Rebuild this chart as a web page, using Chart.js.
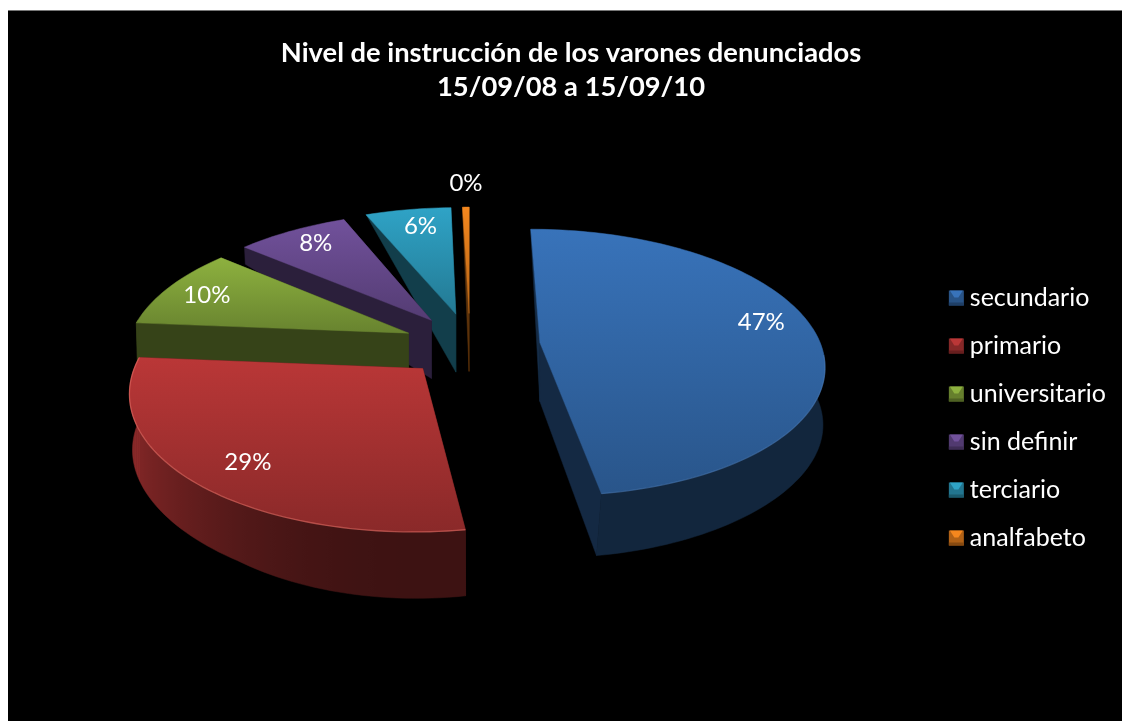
<!DOCTYPE html>
<html>
<head>
<meta charset="utf-8">
<script src="https://cdn.jsdelivr.net/npm/chart.js@4"></script>
<style>
html,body{margin:0;padding:0;background:#fff;overflow:hidden}
#wrap{position:absolute;left:8px;top:10px;width:1114px;height:711px;border-top:1px solid #777;box-sizing:border-box}
canvas{display:block;background:#000}
</style>
</head>
<body>
<div id="wrap"><canvas id="c" width="1114" height="710"></canvas></div>
<script>
const categories = ['secundario','primario','universitario','sin definir','terciario','analfabeto'];
const values = [47.6, 28.7, 9.9, 7.55, 5.8, 0.45];
const percentLabels = ['47%','29%','10%','8%','6%','0%'];
const explode = [25, 24, 24, 24, 25, 25];
const colors = ['#3873BA','#BA3737','#8DB13F','#71519B','#2FA3C6','#F4871E'];
const titleLines = ['Nivel de instrucción de los varones denunciados','15/09/08 a 15/09/10'];
const labelNudgeX = [6, -2, -13, -4, 3, 1];
const labelNudgeY = [-9, 11, 3, -2, 0, 7];

// view of the tilted pie plane (canvas px)
const VIEW = {cx:462, cy:334, R:281, Ry:131, t:0.15};
const FONT = 'Lato, Carlito, Calibri, sans-serif';
const total = values.reduce((a,b)=>a+b,0);

function proj(u,v){
  const p = 1/(1-VIEW.t*v);
  return {x:VIEW.cx+VIEW.R*u*p, y:VIEW.cy+VIEW.Ry*v*p};
}
function depthAt(v){
  const k=[[-1.03,0],[-0.83,18],[-0.25,58],[1,62],[1.2,67]];
  if(v<=k[0][0]) return 0;
  for(let i=1;i<k.length;i++){
    if(v<=k[i][0]){const f=(v-k[i-1][0])/(k[i][0]-k[i-1][0]);return k[i-1][1]+f*(k[i][1]-k[i-1][1]);}
  }
  return k[k.length-1][1];
}
function lower(u,v){
  const q=proj(u,v);
  const w=Math.max(0,Math.min(1,v));
  const s=1-0.038*w*w-0.004*Math.abs(u);
  return {x:VIEW.cx+(q.x-VIEW.cx)*s, y:q.y+depthAt(v)};
}
function shade(hex,f){
  const n=parseInt(hex.slice(1),16);
  return 'rgb('+[(n>>16)&255,(n>>8)&255,n&255].map(c=>Math.round(c*f)).join(',')+')';
}
function poly(ctx,pts,fill){
  ctx.beginPath();
  pts.forEach((p,i)=>i?ctx.lineTo(p.x,p.y):ctx.moveTo(p.x,p.y));
  ctx.closePath();
  ctx.fillStyle=fill;ctx.fill();
  ctx.strokeStyle=fill;ctx.lineWidth=0.5;ctx.stroke();
}
function sliceGeom(el){
  const a0=el.startAngle+Math.PI/2, a1=el.endAngle+Math.PI/2, m=(a0+a1)/2;
  const e=(el.options.offset||0)/100;
  const ex=e*Math.sin(m), ey=-e*Math.cos(m);
  const n=Math.max(3,Math.ceil((a1-a0)/(Math.PI/120)));
  const rim=[];
  for(let i=0;i<=n;i++){
    const a=a0+(a1-a0)*i/n;
    rim.push({a,u:ex+Math.sin(a),v:ey-Math.cos(a),front:-Math.cos(a)>-0.12});
  }
  return {a0,a1,m,ex,ey,rim};
}
function wallFill(ctx,front,col){
  const pts=front.map(r=>{const s=Math.sin(r.a);return {x:proj(r.u,r.v).x,f:0.33+(s<0?0.42*s*s:0)};});
  pts.sort((a,b)=>a.x-b.x);
  const x0=pts[0].x, x1=pts[pts.length-1].x;
  if(x1-x0<10) return shade(col,0.38);
  const gr=ctx.createLinearGradient(x0,0,x1,0);
  pts.forEach(p=>gr.addColorStop((p.x-x0)/(x1-x0),shade(col,p.f)));
  return gr;
}
let legendMoved=false;
const pie3d = {
  id:'pie3d',
  beforeDraw(chart){
    if(legendMoved) return;
    legendMoved=true;
    const l=chart.legend;
    l.top+=52;l.bottom+=52;
    l.legendHitBoxes.forEach(b=>{b.top+=52;});
  },
  beforeDatasetsDraw(chart){
    const ctx=chart.ctx, els=chart.getDatasetMeta(0).data;
    ctx.save();
    for(let i=els.length-1;i>=0;i--){
      const g=sliceGeom(els[i]), col=colors[i];
      const apexT=proj(g.ex,g.ey), apexB=lower(g.ex,g.ey);
      const first=g.rim[0], last=g.rim[g.rim.length-1];
      // radial walls
      poly(ctx,[apexT,proj(last.u,last.v),lower(last.u,last.v),apexB],shade(col,0.36));
      poly(ctx,[apexT,proj(first.u,first.v),lower(first.u,first.v),apexB],shade(col,0.38));
      // outer wall, only where it faces the viewer
      const front=g.rim.filter(r=>r.front);
      if(front.length>1){
        const wall=front.map(r=>proj(r.u,r.v)).concat(front.slice().reverse().map(r=>lower(r.u,r.v)));
        poly(ctx,wall,wallFill(ctx,front,col));
      }
      // top face
      const top=[apexT].concat(g.rim.map(r=>proj(r.u,r.v)));
      const ys=top.map(p=>p.y), y0=Math.min(...ys), y1=Math.max(...ys);
      const grad=ctx.createLinearGradient(0,y0,0,y1);
      grad.addColorStop(0,col);grad.addColorStop(1,shade(col,0.74));
      poly(ctx,top,grad);
      // soft highlight along the front rim
      if(i<2){
        ctx.beginPath();
        let started=false;
        g.rim.forEach(r=>{
          if(r.v<0.05) return;
          const p=proj(r.u,r.v);
          if(started) ctx.lineTo(p.x,p.y); else {ctx.moveTo(p.x,p.y);started=true;}
        });
        ctx.strokeStyle=i===1?'rgba(255,130,120,0.45)':'rgba(120,170,230,0.22)';
        ctx.lineWidth=1.3;ctx.stroke();
      }
    }
    // percentage labels
    ctx.fillStyle='#fff';ctx.font='24px '+FONT;ctx.textAlign='center';ctx.textBaseline='middle';
    els.forEach((el,i)=>{
      const g=sliceGeom(el), k=values[i]/total<0.01?1.3:0.78;
      const q=proj(g.ex+k*Math.sin(g.m),g.ey-k*Math.cos(g.m));
      ctx.fillText(percentLabels[i],q.x+labelNudgeX[i],q.y-4+labelNudgeY[i]);
    });
    ctx.restore();
    return false;
  },
  afterDraw(chart){
    const ctx=chart.ctx, boxes=chart.legend.legendHitBoxes;
    boxes.forEach((b,i)=>{
      const s=15, x=b.left, y=b.top+b.height/2-s/2, c=colors[i];
      ctx.fillStyle=shade(c,0.72);ctx.fillRect(x,y,s,s);
      ctx.fillStyle=shade(c,0.55);ctx.fillRect(x,y+s-3,s,3);
      ctx.fillStyle=c;
      ctx.beginPath();ctx.moveTo(x+1,y);ctx.lineTo(x+s-1,y);ctx.lineTo(x+s/2+2,y+7);ctx.lineTo(x+s/2-2,y+7);ctx.closePath();ctx.fill();
    });
  }
};

new Chart(document.getElementById('c'),{
  type:'pie',
  plugins:[pie3d],
  data:{labels:categories,datasets:[{data:values,backgroundColor:colors,offset:explode,borderWidth:0}]},
  options:{
    responsive:false,animation:false,
    layout:{padding:{left:18,right:6,top:0,bottom:0}},
    plugins:{
      tooltip:{enabled:false},
      title:{display:true,text:titleLines,color:'#fff',
        font:{family:FONT,size:27.3,weight:'bold',lineHeight:1.25},
        padding:{top:25,bottom:10}},
      legend:{position:'right',
        labels:{color:'#fff',font:{family:FONT,size:25},boxWidth:8.5,boxHeight:15,padding:23,
          generateLabels(chart){
            return categories.map((t,i)=>({text:t,fillStyle:'rgba(0,0,0,0)',strokeStyle:'rgba(0,0,0,0)',lineWidth:0,fontColor:'#fff',index:i,hidden:false}));
          }}
      }
    }
  }
});
</script>
</body>
</html>
